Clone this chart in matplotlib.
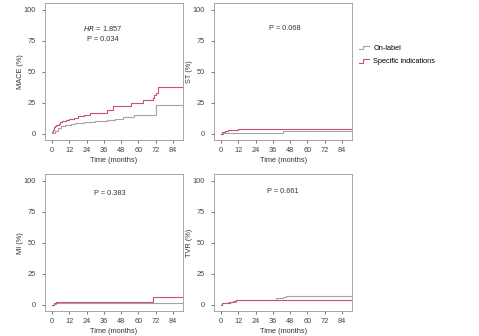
import matplotlib
matplotlib.use("Agg")
import matplotlib.pyplot as plt
from matplotlib.legend_handler import HandlerBase
from matplotlib.lines import Line2D

plt.rcParams['font.family'] = ['Liberation Sans Narrow', 'Liberation Sans', 'DejaVu Sans']

# cumulative incidence (%), step curves, time in months
mace_on_t = [0, 2, 4.4, 6.5, 9, 13, 16, 22, 29.9, 38, 43.7, 49.5, 57, 72]
mace_on_v = [0.5, 2.5, 4.6, 6.0, 7.3, 8.0, 8.6, 9.2, 9.9, 10.8, 11.8, 13.4, 15.3, 23.4]
mace_si_t = [0, 0.5, 1, 2, 3, 4.5, 5.6, 7, 10, 12, 15, 18.3, 22, 26.4, 38, 42.6, 54.8, 63, 70, 71, 72, 73.3]
mace_si_v = [1.0, 3.0, 5.0, 6.0, 7.0, 8.0, 9.5, 10.5, 11.2, 12.0, 12.8, 14.0, 14.8, 16.7, 19.4, 22.0, 24.7, 27.4, 29.0, 31.5, 33.0, 37.6]

st_on_t = [0, 1, 43]
st_on_v = [0, 0.8, 1.9]
st_si_t = [0, 0.5, 3, 5, 12]
st_si_v = [0, 1.5, 2.2, 2.7, 3.8]

mi_on_t = [0, 1, 3]
mi_on_v = [0, 0.8, 1.7]
mi_si_t = [0, 1, 3, 43, 70]
mi_si_v = [0, 1.0, 2.0, 2.4, 5.9]

tvr_on_t = [0, 0.5, 5, 10, 30, 38, 43, 45]
tvr_on_v = [0, 1.5, 2.5, 3.5, 4.0, 5.0, 6.0, 7.3]
tvr_si_t = [0, 0.5, 6, 8, 10]
tvr_si_v = [0, 1.0, 2.0, 3.0, 3.8]

panels = [
    ("MACE (%)", mace_on_t, mace_on_v, mace_si_t, mace_si_v, ["$HR$ = 1.857", "P = 0.034"], 35.4),
    ("ST (%)", st_on_t, st_on_v, st_si_t, st_si_v, ["P = 0.068"], 44),
    ("MI (%)", mi_on_t, mi_on_v, mi_si_t, mi_si_v, ["P = 0.383"], 40),
    ("TVR (%)", tvr_on_t, tvr_on_v, tvr_si_t, tvr_si_v, ["P = 0.661"], 42.7),
]
text_y = [[85, 76], [85], [90], [91.5]]

on_color = "#a8a2aa"
si_color = "#cc5070"
t_end = 92
fs = 5.3

positions = [
    [0.094, 0.582, 0.288, 0.409],
    [0.447, 0.582, 0.288, 0.409],
    [0.094, 0.073, 0.288, 0.409],
    [0.447, 0.073, 0.288, 0.409],
]

fig = plt.figure(figsize=(4.79, 3.36), dpi=100)

for pos, (ylab, t1, v1, t2, v2, texts, tx), ys in zip(positions, panels, text_y):
    ax = fig.add_axes(pos)
    ax.step(t1 + [t_end], v1 + [v1[-1]], where="post", color=on_color, lw=0.8)
    ax.step(t2 + [t_end], v2 + [v2[-1]], where="post", color=si_color, lw=0.8)
    ax.set_xlim(-4.9, 91)
    ax.set_ylim(-5.5, 105.5)
    ax.set_xticks(range(0, 85, 12))
    ax.set_yticks([0, 25, 50, 75, 100])
    ax.tick_params(direction="out", length=2.5, width=0.5, labelsize=fs,
                   colors="#444444")
    ax.tick_params(axis="y", pad=4)
    ax.tick_params(axis="x", pad=2.5)
    for s in ax.spines.values():
        s.set_color("#999999")
        s.set_linewidth(0.6)
    ax.set_xlabel("Time (months)", fontsize=fs, labelpad=2, color="#333333")
    ax.set_ylabel(ylab, fontsize=fs, labelpad=0, color="#333333")
    for txt, y in zip(texts, ys):
        ax.text(tx, y, txt, fontsize=fs, ha="center", va="center", color="#333333")


class StepHandler(HandlerBase):
    def create_artists(self, legend, orig_handle, xdescent, ydescent,
                       width, height, fontsize, trans):
        x0, x1 = -xdescent, -xdescent + width
        xm = x0 + width * 0.45
        ylo = -ydescent + height * 0.1
        yhi = -ydescent + height * 0.75
        line = Line2D([x0, xm, xm, x1], [ylo, ylo, yhi, yhi],
                      color=orig_handle.get_color(), lw=orig_handle.get_linewidth(),
                      transform=trans)
        return [line]


handles = [Line2D([], [], color=on_color, lw=0.8),
           Line2D([], [], color=si_color, lw=0.8)]
fig.legend(handles, ["On-label", "Specific indications"],
           handler_map={Line2D: StepHandler()},
           loc="upper left", bbox_to_anchor=(0.735, 0.887), frameon=False,
           fontsize=fs, handlelength=1.4, handletextpad=0.6, labelspacing=0.85)

fig.savefig("out.png", dpi=100)
